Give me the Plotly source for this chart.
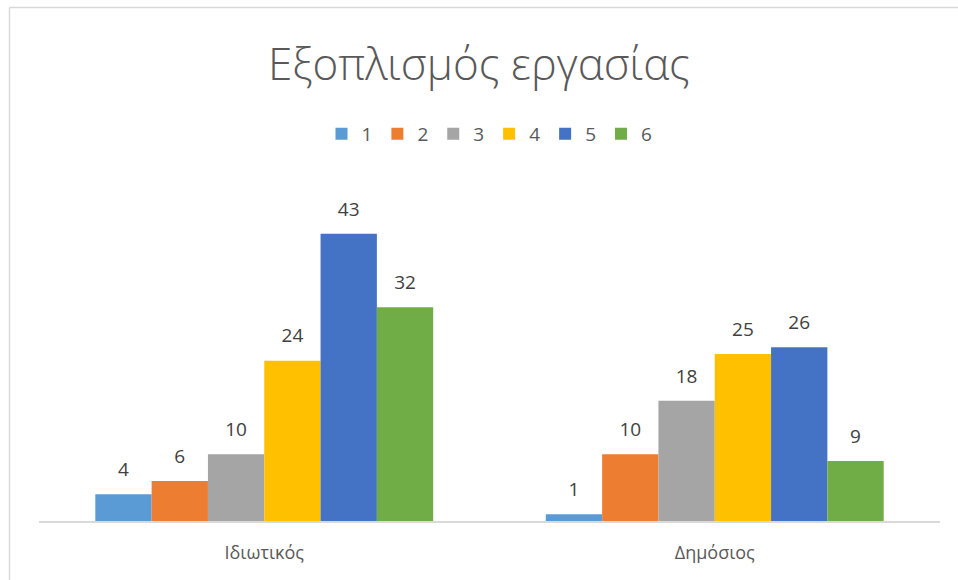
import plotly.graph_objects as go

categories = ["Ιδιωτικός", "Δημόσιος"]
series_names = ["1", "2", "3", "4", "5", "6"]
values = {
    "1": [4, 1],
    "2": [6, 10],
    "3": [10, 18],
    "4": [24, 25],
    "5": [43, 26],
    "6": [32, 9],
}
colors = ["#5B9BD5", "#ED7D31", "#A5A5A5", "#FFC000", "#4472C4", "#70AD47"]
title_text = "Εξοπλισμός εργασίας"

W, H = 958, 580
ML, MR, MT, MB = 39, 18, 187, 59
pw, ph = W - ML - MR, H - MT - MB

fig = go.Figure()
for name, col in zip(series_names, colors):
    fig.add_trace(go.Bar(
        x=categories, y=values[name], name=name,
        marker=dict(color=col, line=dict(width=0)),
    ))
for name in series_names:
    fig.add_trace(go.Scatter(
        x=categories, y=values[name], name=name, showlegend=False,
        mode="markers+text", marker=dict(size=20, opacity=0),
        text=[str(v) for v in values[name]], textposition="top center",
        textfont=dict(family="Open Sans", size=19, color="#404040"),
        cliponaxis=False, hoverinfo="skip",
    ))

def px_x(px):
    return (px - ML) / pw

def px_y(py):
    return 1 + (MT - py) / ph

fig.update_layout(
    width=W, height=H,
    margin=dict(l=ML, r=MR, t=MT, b=MB),
    paper_bgcolor="white", plot_bgcolor="white",
    barmode="group", bargap=0.25, bargroupgap=0,
    scattermode="group", scattergap=0.25,
    title=dict(text=title_text, x=0.5, xanchor="center", y=1 - 65 / H, yanchor="middle",
               font=dict(family="Open Sans", size=44, color="#595959", weight=300)),
    legend=dict(orientation="h", x=0.5, xanchor="center", y=px_y(134), yanchor="middle",
                font=dict(family="Open Sans", size=19, color="#595959"),
                itemwidth=30, traceorder="normal"),
    xaxis=dict(showline=True, linecolor="#D9D9D9", linewidth=1.5, showgrid=False,
               ticks="outside", ticklen=15, tickcolor="rgba(0,0,0,0)",
               tickfont=dict(family="Open Sans", size=18, color="#595959")),
    yaxis=dict(range=[0, 50], visible=False, showgrid=False),
    shapes=[
        dict(type="line", xref="paper", yref="paper", x0=px_x(9.5), x1=px_x(W), y0=px_y(7.5), y1=px_y(7.5),
             line=dict(color="#D9D9D9", width=1.5)),
        dict(type="line", xref="paper", yref="paper", x0=px_x(9.5), x1=px_x(9.5), y0=px_y(7.5), y1=px_y(H),
             line=dict(color="#D9D9D9", width=1.5)),
    ],
)

fig.write_html("out.html")
